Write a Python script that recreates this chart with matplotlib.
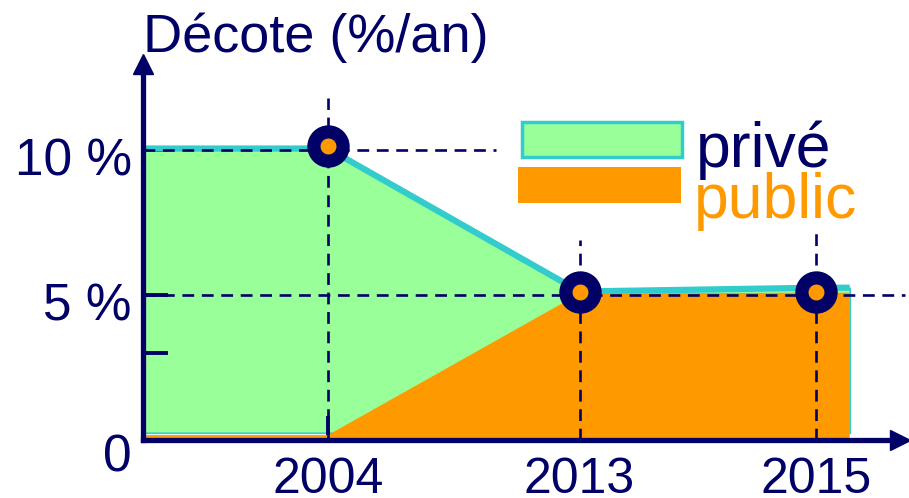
import matplotlib
matplotlib.use("Agg")
import matplotlib.pyplot as plt
from matplotlib.patches import Rectangle
import matplotlib.transforms as mtransforms

# schematic time axis: start, 2004, 2013, 2015, end
x_pos = [0, 1.0, 2.36, 3.64, 3.82]
prive = [10.05, 10.05, 5.12, 5.25, 5.25]
public = [0.17, 0.17, 5.05, 5.08, 5.08]

tick_pos = [1.0, 2.36, 3.64]
tick_years = ["2004", "2013", "2015"]
point_pos = [1.0, 2.36, 3.64]
point_val = [10.15, 5.1, 5.1]
guide_top = [11.8, 6.9, 7.3]

NAVY = "#000066"
GREEN = "#99FF99"
CYAN = "#33CCCC"
ORANGE = "#FF9900"

plt.rcParams["font.family"] = ["Liberation Sans", "DejaVu Sans"]
plt.rcParams["lines.scale_dashes"] = False

W, H = 909, 498
fig = plt.figure(figsize=(W / 100, H / 100), dpi=100)
ax = fig.add_axes([143 / W, (H - 440) / H, (900 - 143) / W, (440 - 64) / H])
ax.set_xlim(0, (900 - 143) / 185)
ax.set_ylim(0, (440 - 64) / 29)

# areas
ax.fill_between(x_pos, 0.25, prive, facecolor=GREEN, edgecolor=CYAN, lw=1.2, zorder=1)
ax.plot(x_pos, prive, color=CYAN, lw=4.5, solid_capstyle="butt", zorder=2)
ax.fill_between(x_pos, 0, public, facecolor=ORANGE, edgecolor="none", zorder=3)

# dashed guides
dash = dict(color=NAVY, lw=1.9, dashes=(8.5, 5.5), zorder=4, clip_on=False)
ax.plot([0, 1.91], [10, 10], **dash)
ax.plot([0, 4.12], [5, 5], **dash)
for xp, top in zip(point_pos, guide_top):
    ax.plot([xp, xp], [0, top], **dash)

ax.plot(point_pos, point_val, "o", ms=21, mfc=ORANGE, mec=NAVY, mew=9.5,
        ls="none", zorder=6, clip_on=False)

# axes
for s in ["top", "right"]:
    ax.spines[s].set_visible(False)
for s in ["left", "bottom"]:
    ax.spines[s].set_color(NAVY)
    ax.spines[s].set_linewidth(3.8)
    ax.spines[s].set_zorder(7)
ax.plot(0, 1, "^", ms=14, color=NAVY, transform=ax.transAxes, clip_on=False, zorder=8)
ax.plot(1, 0, ">", ms=14, color=NAVY, transform=ax.transAxes, clip_on=False, zorder=8)

ax.set_yticks([0, 3, 5, 10])
ax.set_yticklabels(["0", "", "5 %", "10 %"])
ax.tick_params(axis="y", direction="in", length=18, width=2.8, color=NAVY,
               labelcolor=NAVY, labelsize=37, pad=8)
ax.set_xticks(tick_pos)
ax.set_xticklabels(tick_years)
ax.tick_params(axis="x", direction="in", length=17, width=2.8, color=NAVY,
               labelcolor=NAVY, labelsize=36, pad=12)
for lab, dy in zip(ax.get_yticklabels(), [-12, 0, -6, -6]):
    lab.set_transform(lab.get_transform() + mtransforms.ScaledTranslation(0, dy / 100, fig.dpi_scale_trans))

# title
fig.text(143 / W, 1 - 52 / H, "Décote (%/an)", color=NAVY, fontsize=39, va="baseline")

# legend
fig.patches.append(Rectangle((522 / W, 1 - 157 / H), 160 / W, 35 / H, transform=fig.transFigure,
                             facecolor=GREEN, edgecolor=CYAN, lw=2.5))
fig.patches.append(Rectangle((518 / W, 1 - 203 / H), 163 / W, 36 / H, transform=fig.transFigure,
                             facecolor=ORANGE, edgecolor="none"))
fig.text(696 / W, 1 - 167 / H, "privé", color=NAVY, fontsize=45, va="baseline")
fig.text(694 / W, 1 - 218 / H, "public", color=ORANGE, fontsize=45, va="baseline")

fig.savefig("out.png", dpi=100)
